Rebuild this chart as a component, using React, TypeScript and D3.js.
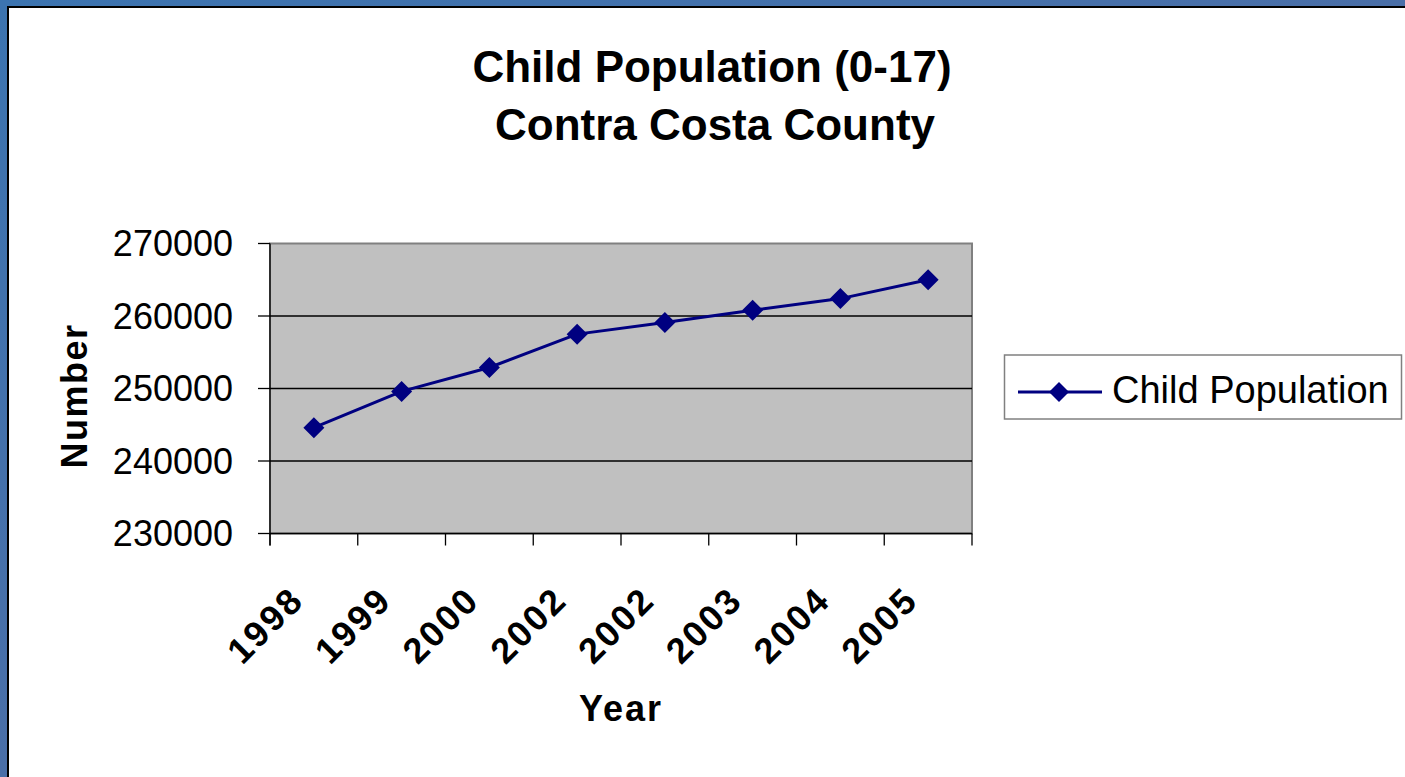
import { useMemo } from "react";
import * as d3 from "d3";

const years = ["1998", "1999", "2000", "2002", "2002", "2003", "2004", "2005"];
const childPopulation = [244600, 249600, 252900, 257500, 259100, 260800, 262400, 265000];
const yTicks = [230000, 240000, 250000, 260000, 270000];

const W = 1405;
const H = 777;
const plot = { left: 270, right: 972, top: 243.5, bottom: 533.5 };
const FONT = "'Liberation Sans', Arial, Helvetica, sans-serif";
const NAVY = "#000080";

function diamond(cx: number, cy: number, r: number) {
  return `M${cx},${cy - r}L${cx + r},${cy}L${cx},${cy + r}L${cx - r},${cy}Z`;
}

export default function App() {
  const x = useMemo(
    () =>
      d3
        .scaleBand<number>()
        .domain(years.map((_, i) => i))
        .range([plot.left, plot.right]),
    []
  );
  const y = useMemo(
    () => d3.scaleLinear().domain([230000, 270000]).range([plot.bottom, plot.top]),
    []
  );

  const cx = (i: number) => (x(i) ?? 0) + x.bandwidth() / 2;

  const linePath =
    d3
      .line<number>()
      .x((_, i) => cx(i))
      .y((v) => y(v))(childPopulation) ?? "";

  const boundaries = d3.range(years.length + 1).map((i) =>
    i < years.length ? x(i) ?? 0 : plot.right
  );

  return (
    <svg
      width={W}
      height={H}
      viewBox={`0 0 ${W} ${H}`}
      style={{ position: "absolute", left: 0, top: 0, display: "block" }}
      fontFamily={FONT}
    >
      <defs>
        <linearGradient id="slide-bg" x1="0" x2="1" y1="0" y2="1">
          <stop offset="0%" stopColor="#3c74b0" />
          <stop offset="50%" stopColor="#4a6fa8" />
          <stop offset="100%" stopColor="#3f7a6a" />
        </linearGradient>
      </defs>
      <rect x={0} y={0} width={W} height={H} fill="url(#slide-bg)" />
      <rect x={8} y={7} width={W} height={H} fill="#ffffff" stroke="#000" strokeWidth={2} />

      {/* title */}
      <text x={712} y={82} textAnchor="middle" fontSize={44} fontWeight="bold">
        Child Population (0-17)
      </text>
      <text x={715} y={140} textAnchor="middle" fontSize={44} fontWeight="bold">
        Contra Costa County
      </text>

      {/* plot area */}
      <rect
        x={plot.left}
        y={plot.top}
        width={plot.right - plot.left}
        height={plot.bottom - plot.top}
        fill="#c0c0c0"
        stroke="#808080"
        strokeWidth={2}
      />
      {yTicks
        .filter((t) => t > 230000 && t < 270000)
        .map((t) => (
          <line
            key={`g${t}`}
            x1={plot.left}
            x2={plot.right}
            y1={y(t)}
            y2={y(t)}
            stroke="#000"
            strokeWidth={1.3}
          />
        ))}

      {/* axes */}
      <line x1={plot.left} x2={plot.left} y1={plot.top} y2={plot.bottom + 12} stroke="#000" strokeWidth={1.3} />
      <line x1={plot.left} x2={plot.right} y1={plot.bottom} y2={plot.bottom} stroke="#000" strokeWidth={1.3} />
      {yTicks.map((t) => (
        <g key={`yt${t}`}>
          <line x1={plot.left - 12} x2={plot.left} y1={y(t)} y2={y(t)} stroke="#000" strokeWidth={1.3} />
          <text x={233} y={y(t)} dy="0.36em" textAnchor="end" fontSize={36}>
            {t}
          </text>
        </g>
      ))}
      {boundaries.map((b, i) => (
        <line key={`xt${i}`} x1={b} x2={b} y1={plot.bottom} y2={plot.bottom + 12} stroke="#000" strokeWidth={1.3} />
      ))}
      {years.map((label, i) => (
        <text
          key={`xl${i}`}
          transform={`translate(${cx(i) - 8},${602}) rotate(-45)`}
          textAnchor="end"
          fontSize={36}
          fontWeight="bold"
          letterSpacing={2.5}
        >
          {label}
        </text>
      ))}

      {/* series */}
      <path d={linePath} fill="none" stroke={NAVY} strokeWidth={3} strokeLinejoin="round" />
      {childPopulation.map((v, i) => (
        <path key={`m${i}`} d={diamond(cx(i), y(v), 10.5)} fill={NAVY} />
      ))}

      {/* axis titles */}
      <text x={621} y={721} textAnchor="middle" fontSize={36} fontWeight="bold" letterSpacing={2}>
        Year
      </text>
      <text
        transform="translate(87,396) rotate(-90)"
        textAnchor="middle"
        fontSize={36}
        fontWeight="bold"
        letterSpacing={1.5}
      >
        Number
      </text>

      {/* legend */}
      <rect x={1004.5} y={355} width={397} height={64} fill="#fff" stroke="#808080" strokeWidth={1.5} />
      <line x1={1018} x2={1102} y1={392} y2={392} stroke={NAVY} strokeWidth={3} />
      <path d={diamond(1059, 392, 10)} fill={NAVY} />
      <text x={1112} y={403} fontSize={38}>
        Child Population
      </text>
    </svg>
  );
}
